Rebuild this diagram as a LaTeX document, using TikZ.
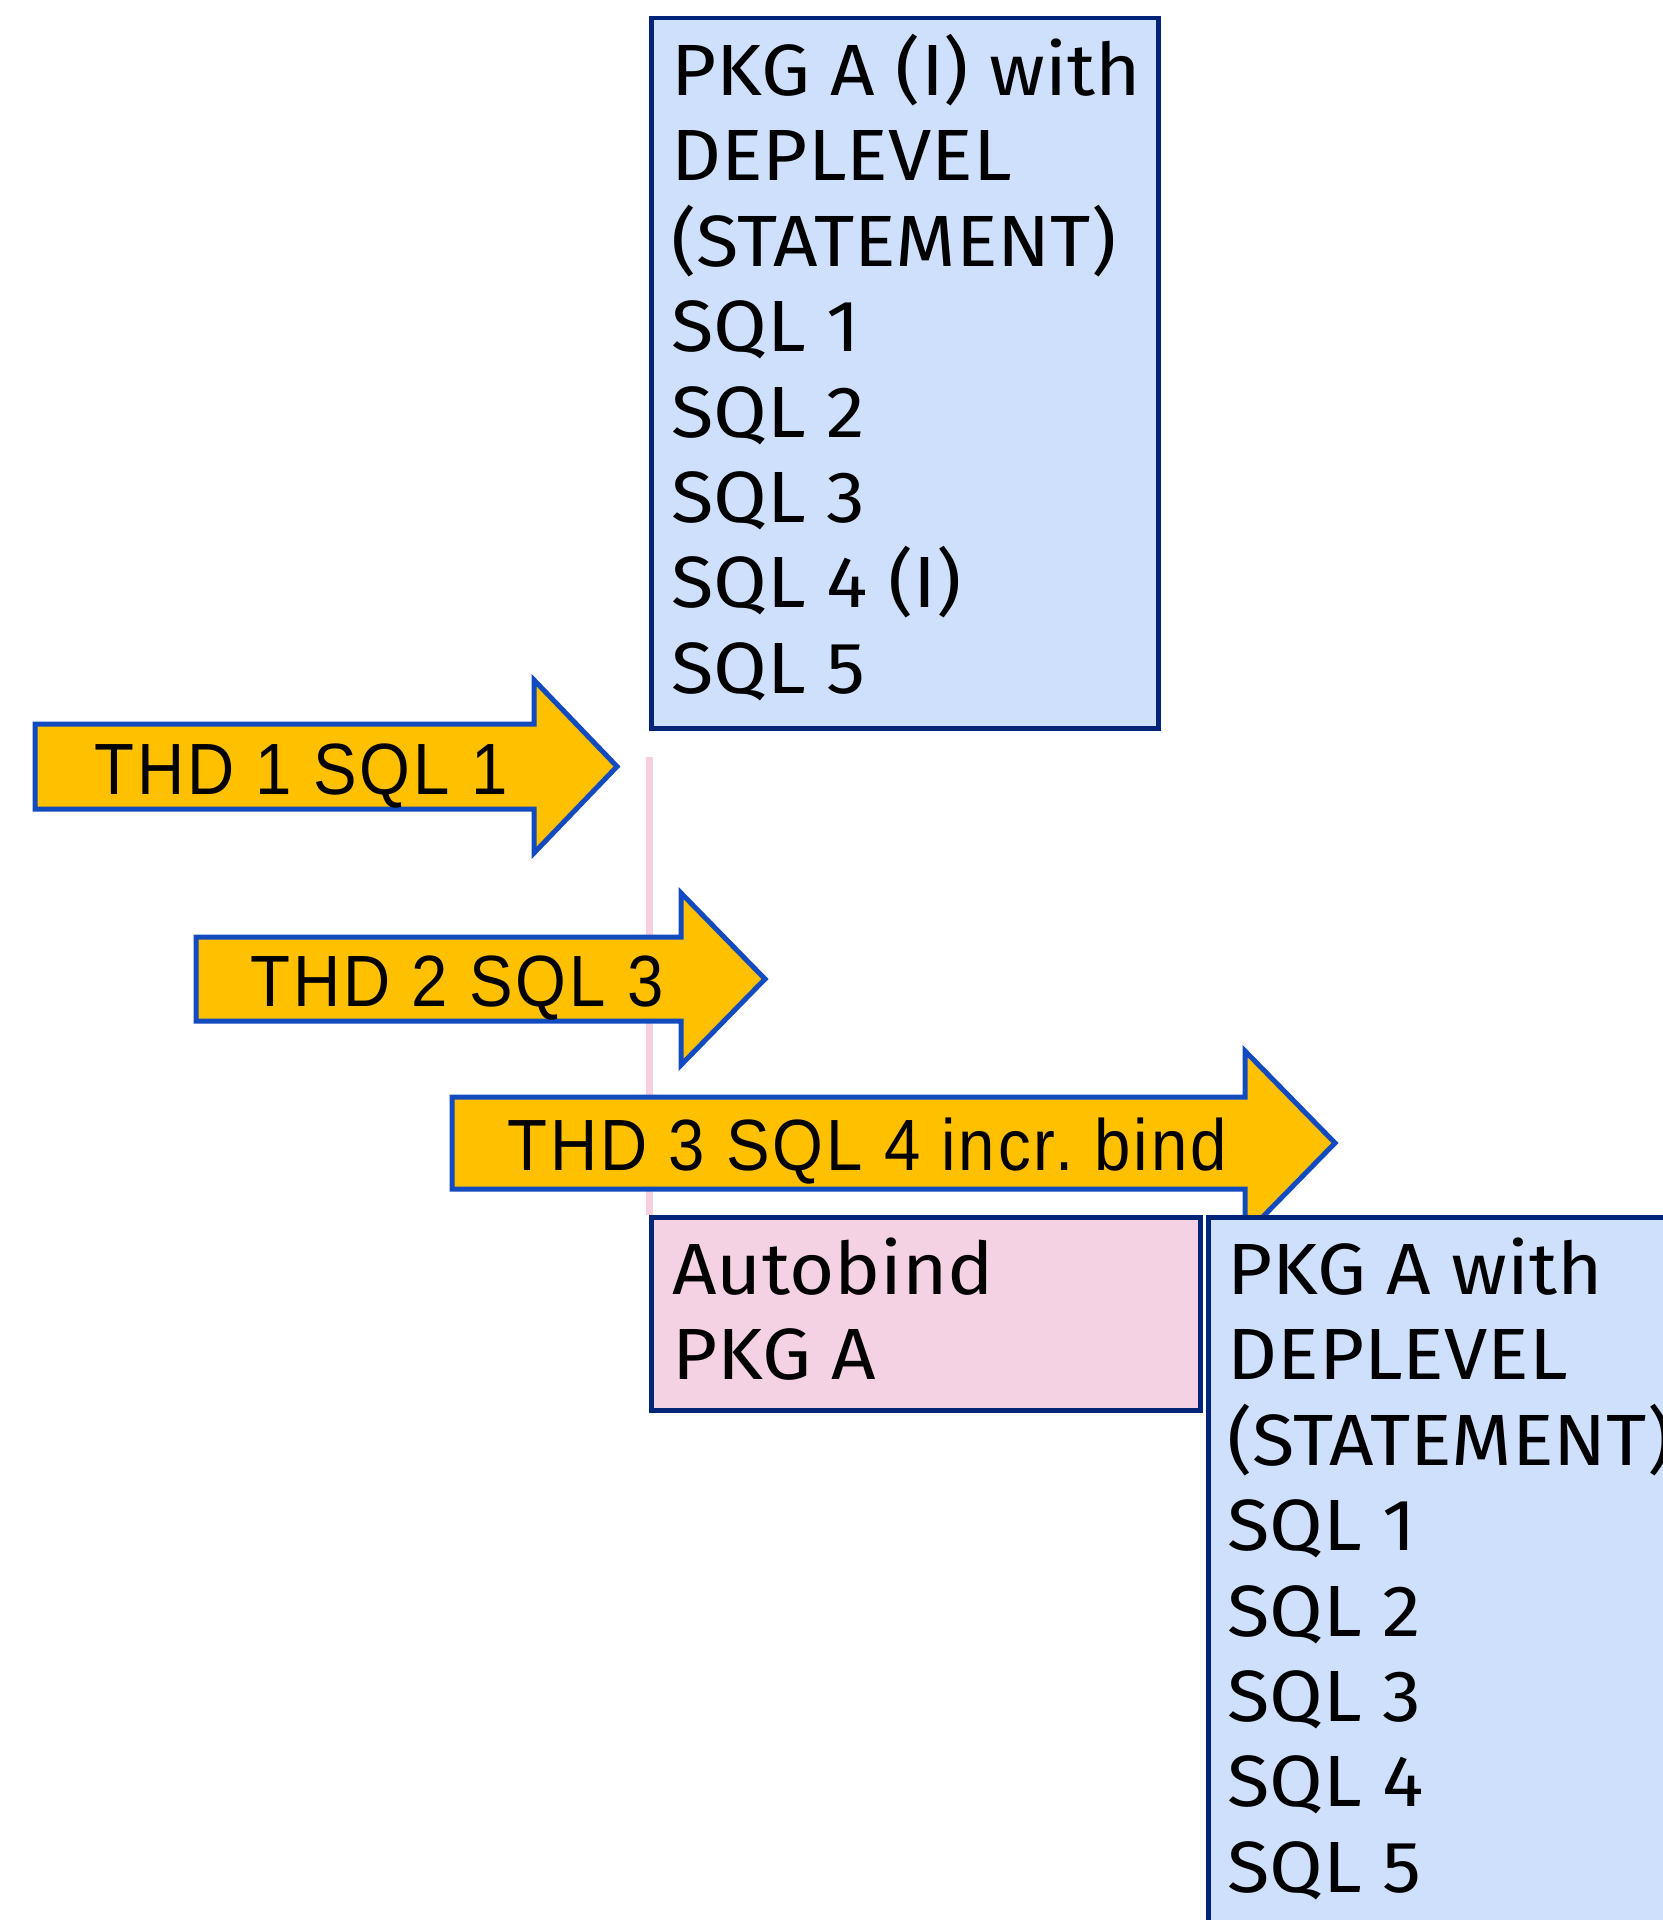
\documentclass[tikz,border=0pt]{standalone}
\usepackage{fontspec}
\usetikzlibrary{backgrounds}
\newfontfamily\boxfont[FakeStretch=1.07]{Fira Sans}
\newfontfamily\arrowfont[FakeStretch=0.9,LetterSpace=4.1]{Liberation Sans}
\definecolor{pkgfill}{RGB}{207,224,252}
\definecolor{pkgline}{RGB}{0,36,120}
\definecolor{bindfill}{RGB}{245,210,227}
\definecolor{bindrule}{RGB}{246,208,224}
\definecolor{thdfill}{RGB}{255,192,0}
\definecolor{thdline}{RGB}{18,74,192}
\begin{document}
\begin{tikzpicture}[x=0.5pt,y=-0.5pt,
  pkgbox/.style={rectangle, draw=pkgline, line width=2.25pt, anchor=north west, inner sep=0pt},
  % multi-line texts are placed by the baseline of their last line
  boxtext/.style={anchor=base west, align=left, inner sep=0pt,
    font=\boxfont\fontsize{36.3pt}{42.7pt}\selectfont},
  thdarrow/.style={draw=thdline, fill=thdfill, line width=2.5pt, line join=miter},
  thdtext/.style={anchor=base west, inner sep=0pt,
    font=\arrowfont\fontsize{36.3pt}{40pt}\selectfont},
  pinkrule/.style={draw=bindrule, line width=3.5pt}]
\useasboundingbox (0,0) rectangle (1663,1920);
\clip (0,0) rectangle (1663,1920);

% package before the incremental bind
\node[pkgbox, fill=pkgfill, minimum width=253.5pt, minimum height=355pt] (pkgtop) at (649,16) {};
\node[boxtext] (pkgtoptext) at (671,693.3)
  {PKG A (I) with\\DEPLEVEL\\(STATEMENT)\\SQL 1\\SQL 2\\SQL 3\\SQL 4 (I)\\SQL 5};

% autobind step
\node[pkgbox, fill=bindfill, minimum width=274.5pt, minimum height=96.5pt] (autobind) at (649,1215) {};
\node[boxtext] (autobindtext) at (672,1379.9) {Autobind\\PKG A};

% timeline marker behind the threads
\coordinate (linetop) at (649,757);
\begin{scope}[on background layer]
  \draw[pinkrule] (linetop) -- (autobind.north west);
\end{scope}

% threads
\draw[thdarrow] (35,724) -- (534,724) -- (534,680) -- (617,766.5) -- (534,853) -- (534,809) -- (35,809) -- cycle;
\node[thdtext] (thd1) at (94,794) {THD 1 SQL 1};

\draw[thdarrow] (196,937) -- (681,937) -- (681,893) -- (765,979) -- (681,1065) -- (681,1021) -- (196,1021) -- cycle;
\node[thdtext] (thd2) at (250,1006) {THD 2 SQL 3};

\draw[thdarrow] (452,1097) -- (1245,1097) -- (1245,1051) -- (1335,1143) -- (1245,1235) -- (1245,1189) -- (452,1189) -- cycle;
\node[thdtext] (thd3) at (507,1170) {THD 3 SQL 4 incr.\ bind};

% package after the incremental bind
\node[pkgbox, fill=pkgfill, minimum width=247pt, minimum height=392.5pt] (pkglow) at (1206,1215) {};
\node[boxtext] (pkglowtext) at (1227,1892.3)
  {PKG A with\\DEPLEVEL\\(STATEMENT)\\SQL 1\\SQL 2\\SQL 3\\SQL 4\\SQL 5};
\end{tikzpicture}
\end{document}
